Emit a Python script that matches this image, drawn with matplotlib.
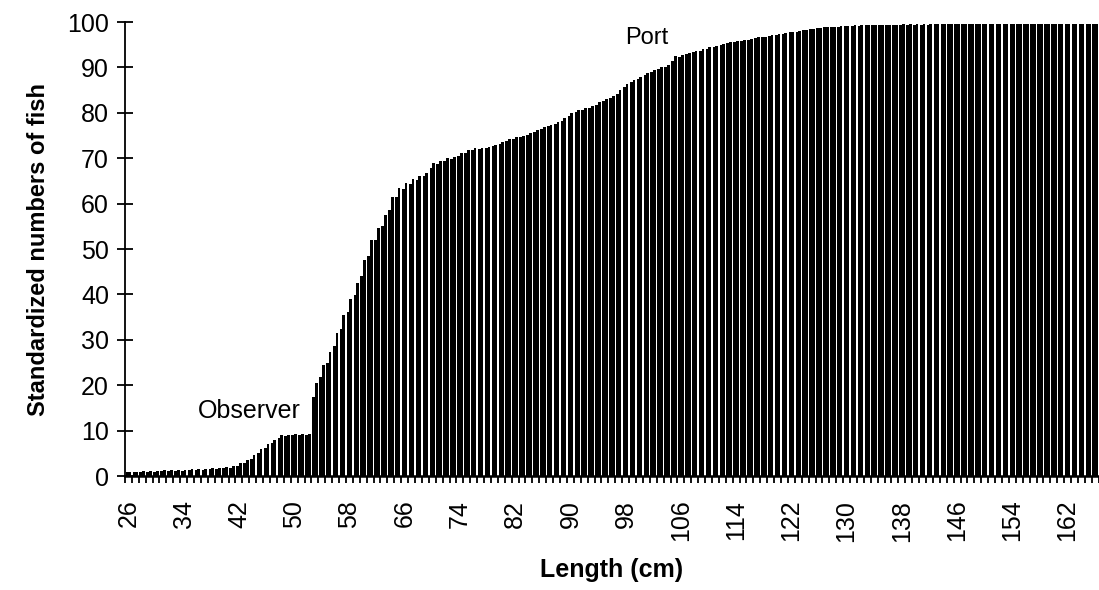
import matplotlib.pyplot as plt
import numpy as np

plt.rcParams['font.family'] = ['Liberation Sans', 'DejaVu Sans']

# length classes (cm)
lengths = list(range(26, 167))

# cumulative standardized numbers of fish, port sampling
port = [
    1.0, 1.0, 1.1, 1.2, 1.2, 1.3, 1.3, 1.4, 1.4, 1.5,          # 26-35
    1.5, 1.6, 1.7, 1.8, 2.0, 2.3, 2.8, 3.5, 4.6, 6.0,          # 36-45
    7.0, 8.0, 9.0, 9.1, 9.2, 9.2, 9.3, 20.5, 24.4, 27.3,       # 46-55
    31.5, 35.5, 39.0, 42.5, 47.5, 52.0, 54.6, 57.5, 61.5, 63.4,  # 56-65
    64.5, 65.4, 66.0, 66.8, 69.0, 69.4, 70.0, 70.3, 71.1, 71.8,  # 66-75
    72.2, 72.3, 72.5, 72.9, 73.6, 74.2, 74.7, 75.0, 75.6, 76.3,  # 76-85
    76.8, 77.4, 78.0, 78.8, 80.0, 80.6, 81.0, 81.5, 82.3, 83.0,  # 86-95
    83.6, 85.0, 86.4, 87.2, 88.0, 88.8, 89.4, 90.0, 90.6, 92.5,  # 96-105
    92.8, 93.2, 93.6, 94.0, 94.4, 94.8, 95.2, 95.5, 95.8, 96.0,  # 106-115
    96.3, 96.6, 96.8, 97.1, 97.3, 97.6, 97.8, 98.1, 98.3, 98.5,  # 116-125
    98.7, 98.9, 99.0, 99.1, 99.2, 99.3, 99.3, 99.3, 99.4, 99.4,  # 126-135
    99.4, 99.4, 99.5, 99.5, 99.5, 99.5, 99.5, 99.5, 99.5, 99.5,  # 136-145
    99.5, 99.5, 99.5, 99.5, 99.6, 99.6, 99.6, 99.6, 99.6, 99.6,  # 146-155
    99.6, 99.6, 99.6, 99.6, 99.6, 99.6, 99.6, 99.6, 99.6, 99.6,  # 156-165
    99.6,                                                        # 166
]

# cumulative standardized numbers of fish, observer sampling
observer = [
    0.8, 0.9, 0.9, 1.0, 1.0, 1.1, 1.1, 1.2, 1.2, 1.3,
    1.3, 1.4, 1.5, 1.6, 1.7, 1.9, 2.3, 2.9, 3.8, 5.0,
    6.2, 7.2, 8.3, 8.8, 9.0, 9.0, 9.1, 17.5, 21.8, 25.0,
    28.6, 32.5, 36.2, 39.8, 44.0, 48.5, 52.0, 55.0, 58.5, 61.5,
    63.2, 64.4, 65.2, 66.0, 67.8, 68.8, 69.4, 69.9, 70.5, 71.2,
    71.8, 72.0, 72.2, 72.6, 73.2, 73.8, 74.3, 74.7, 75.2, 75.8,
    76.4, 77.0, 77.6, 78.3, 79.2, 80.1, 80.6, 81.1, 81.8, 82.5,
    83.2, 84.2, 85.6, 86.7, 87.5, 88.3, 89.0, 89.6, 90.2, 91.4,
    92.4, 92.9, 93.3, 93.7, 94.1, 94.5, 94.9, 95.3, 95.6, 95.9,
    96.1, 96.4, 96.7, 96.9, 97.2, 97.4, 97.7, 97.9, 98.2, 98.4,
    98.6, 98.8, 98.9, 99.0, 99.1, 99.2, 99.2, 99.3, 99.3, 99.3,
    99.3, 99.4, 99.4, 99.4, 99.4, 99.4, 99.4, 99.5, 99.5, 99.5,
    99.5, 99.5, 99.5, 99.5, 99.5, 99.5, 99.5, 99.5, 99.5, 99.5,
    99.5, 99.5, 99.5, 99.5, 99.5, 99.5, 99.5, 99.5, 99.5, 99.5,
    99.5,
]

x = np.arange(len(lengths))
w = 0.4

fig = plt.figure(figsize=(10.99, 5.90), dpi=100)
ax = fig.add_axes([0.1137, 0.193, 0.886, 0.7697])

# two bars per length class, a thin white gap between classes
ax.bar(x - w / 2, observer, width=w, color='black', linewidth=0)
ax.bar(x + w / 2, port, width=w, color='black', linewidth=0)

ax.set_xlim(-0.5, len(lengths) - 0.5)
ax.set_ylim(0, 100)

ax.spines['top'].set_visible(False)
ax.spines['right'].set_visible(False)
ax.spines['left'].set_linewidth(1.3)
ax.spines['bottom'].set_linewidth(1.8)

ax.set_yticks(range(0, 101, 10))
ax.tick_params(axis='y', direction='inout', length=11, width=1.3, labelsize=18, pad=6)

ax.set_xticks(x[::8])
ax.set_xticklabels([str(v) for v in lengths[::8]], rotation=90)
ax.set_xticks(np.arange(-0.5, len(lengths)), minor=True)
ax.tick_params(axis='x', which='major', length=0, labelsize=18, pad=17)
ax.tick_params(axis='x', which='minor', direction='out', length=5, width=1.3)

ax.set_ylabel('Standardized numbers of fish', fontsize=17, fontweight='bold', labelpad=12)
ax.set_xlabel('Length (cm)', fontsize=18, fontweight='bold', labelpad=12)

ax.text(lengths.index(43) + 0.5, 14.3, 'Observer', fontsize=18, ha='center', va='center')
ax.text(lengths.index(101), 96.5, 'Port', fontsize=17, ha='center', va='center')

fig.savefig('out.png', dpi=100)
